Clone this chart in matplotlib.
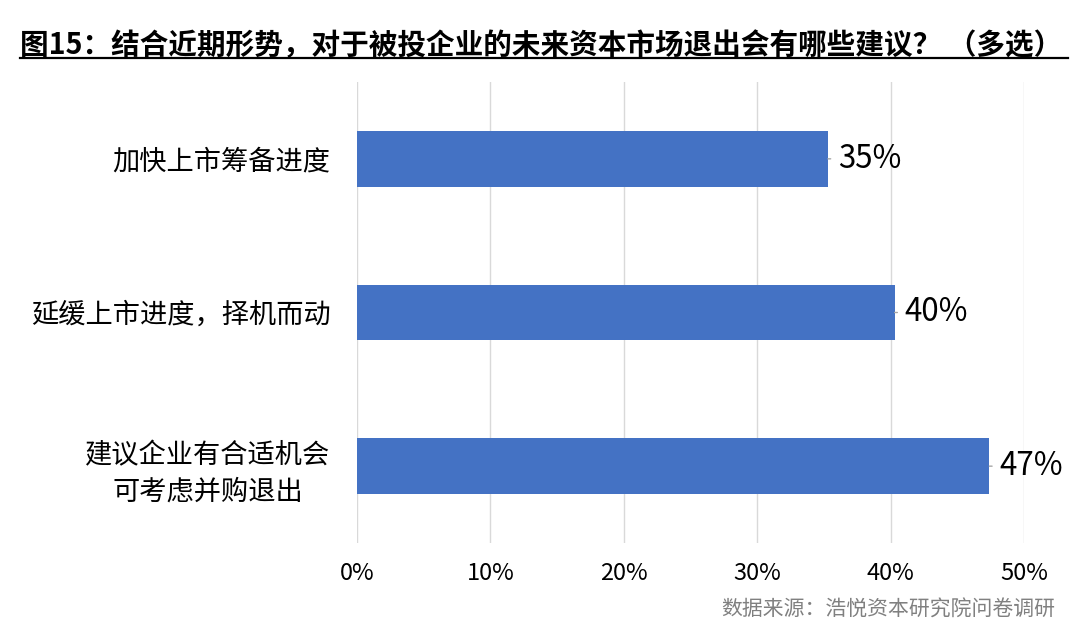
import matplotlib
matplotlib.use("Agg")
from matplotlib import pyplot as plt
from matplotlib.lines import Line2D

plt.rcParams['font.family'] = ['Noto Sans CJK SC', 'DejaVu Sans']

# data
categories = ['加快上市筹备进度', '延缓上市进度，择机而动', '建议企业有合适机会\n可考虑并购退出']
values = [0.353, 0.403, 0.474]
value_labels = ['35%', '40%', '47%']
x_ticks = [0, 0.1, 0.2, 0.3, 0.4, 0.5]
x_tick_labels = ['0%', '10%', '20%', '30%', '40%', '50%']

title = '图15：结合近期形势，对于被投企业的未来资本市场退出会有哪些建议？ （多选）'
source = '数据来源：浩悦资本研究院问卷调研'

fig = plt.figure(figsize=(10.8, 6.38), dpi=100)
ax = fig.add_axes([357 / 1080, 95 / 638, 667 / 1080, 461 / 638])

pos = list(range(len(categories)))
ax.barh(pos, values, height=0.364, color='#4472C4', zorder=3)

ax.set_xlim(0, 0.5)
ax.set_ylim(len(categories) - 0.5, -0.5)
ax.set_xticks(x_ticks)
ax.set_xticklabels(x_tick_labels, fontsize=17)
ax.set_yticks(pos)
ax.set_yticklabels(categories, fontsize=19.6, ma='center', linespacing=1.45)
ax.tick_params(axis='both', length=0)
ax.tick_params(axis='x', pad=14)
ax.tick_params(axis='y', pad=19)
ax.grid(axis='x', color='#d9d9d9', linewidth=1, zorder=0)
for s in ax.spines.values():
    s.set_visible(False)

# value labels with small leader lines
for i, (v, lab) in enumerate(zip(values, value_labels)):
    ax.annotate(lab, xy=(v, i), xytext=(7, 0), textcoords='offset points',
                ha='left', va='center', fontsize=22.5,
                arrowprops=dict(arrowstyle='-', color='#a6a6a6', lw=1,
                                shrinkA=3, shrinkB=0, relpos=(0, 0.5)))

# title with underline
fig.text(20 / 1080, 1 - 54 / 638, title, fontsize=20.6, fontweight='bold',
         ha='left', va='baseline')
fig.add_artist(Line2D([20 / 1080, 1068 / 1080], [1 - 58 / 638, 1 - 58 / 638],
                      color='black', linewidth=1.6))

fig.text(1055 / 1080, 1 - 610 / 638, source, fontsize=15, color='#808080',
         ha='right', va='center', style='italic')

fig.savefig('out.png', dpi=100)
